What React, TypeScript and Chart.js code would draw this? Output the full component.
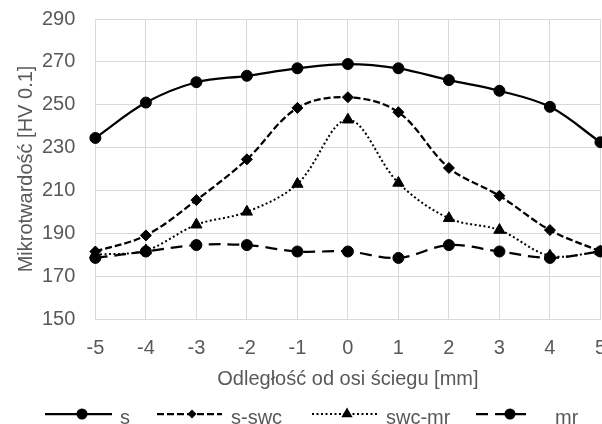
import React, { useEffect, useRef } from 'react';
import { Chart, registerables } from 'chart.js';

Chart.register(...registerables);

const categories = ['-5', '-4', '-3', '-2', '-1', '0', '1', '2', '3', '4', '5'];
const sValues = [234.5, 251, 260.5, 263.5, 267, 269, 267, 261.5, 256.5, 249, 232.5];
const sSwcValues = [181.5, 189, 205.5, 224.5, 248.5, 253.5, 246.5, 220.5, 207.5, 191.5, 181.5];
const swcMrValues = [180, 182, 194, 200, 213, 243, 213.5, 197, 191.5, 179.5, 181.5];
const mrValues = [178.5, 181.5, 184.5, 184.5, 181.5, 181.5, 178.5, 184.5, 181.5, 178.5, 181.5];
const seriesNames = ['s', 's-swc', 'swc-mr', 'mr'];
const yMin = 150;
const yMax = 290;
const yStep = 20;
const xTitle = 'Odległość od osi ściegu [mm]';
const yTitle = 'Mikrotwardość [HV 0.1]';

const FONT = "'Liberation Sans', Arial, sans-serif";
const TEXT = '#595959';
const GRID = '#d9d9d9';

const styles = [
  { dash: [] as number[], point: 'circle', radius: 5.5, width: 2.25 },
  { dash: [7, 3], point: 'rectRot', radius: 5.5, width: 2.25 },
  { dash: [2, 2.5], point: 'triangle', radius: 6.5, width: 2 },
  { dash: [12, 7], point: 'circle', radius: 5.5, width: 2.25 },
];

const legendItems = [
  { x0: 45, x1: 112, m: 82, t: 120 },
  { x0: 157, x1: 222, m: 192, t: 231 },
  { x0: 312, x1: 378, m: 347, t: 386 },
  { x0: 476, x1: 532, m: 510, t: 555 },
];

function drawMarker(ctx: CanvasRenderingContext2D, style: string, x: number, y: number, r: number) {
  ctx.beginPath();
  if (style === 'circle') {
    ctx.arc(x, y, r, 0, Math.PI * 2);
  } else if (style === 'rectRot') {
    ctx.moveTo(x - r, y);
    ctx.lineTo(x, y - r);
    ctx.lineTo(x + r, y);
    ctx.lineTo(x, y + r);
    ctx.closePath();
  } else {
    const a = -Math.PI / 2;
    for (let k = 0; k < 3; k++) {
      const ang = a + (k * 2 * Math.PI) / 3;
      const px = x + Math.cos(ang) * r;
      const py = y + Math.sin(ang) * r;
      if (k === 0) ctx.moveTo(px, py);
      else ctx.lineTo(px, py);
    }
    ctx.closePath();
  }
  ctx.fill();
}

const legendPlugin = {
  id: 'customLegend',
  afterDraw(chart: any) {
    const ctx = chart.ctx;
    const y = 414;
    ctx.save();
    legendItems.forEach((it, i) => {
      const st = styles[i];
      ctx.strokeStyle = '#000';
      ctx.lineWidth = st.width;
      ctx.setLineDash(st.dash);
      ctx.beginPath();
      ctx.moveTo(it.x0, y);
      ctx.lineTo(it.x1, y);
      ctx.stroke();
      ctx.setLineDash([]);
      ctx.fillStyle = '#000';
      const r = i === 1 ? 4.5 : st.radius;
      drawMarker(ctx, st.point, it.m, y, r);
      ctx.fillStyle = TEXT;
      ctx.font = `20px ${FONT}`;
      ctx.textBaseline = 'alphabetic';
      ctx.textAlign = 'left';
      ctx.fillText(seriesNames[i], it.t, 424);
    });
    ctx.restore();
  },
};

export default function App() {
  const ref = useRef<HTMLCanvasElement>(null);
  useEffect(() => {
    if (!ref.current) return;
    const allValues = [sValues, sSwcValues, swcMrValues, mrValues];
    const chart = new Chart(ref.current, {
      type: 'line',
      data: {
        labels: categories,
        datasets: allValues.map((vals, i) => ({
          label: seriesNames[i],
          data: vals,
          borderColor: '#000',
          backgroundColor: '#000',
          borderWidth: styles[i].width,
          borderDash: styles[i].dash,
          pointStyle: styles[i].point as any,
          pointRadius: styles[i].radius,
          pointBorderWidth: 1,
          pointBackgroundColor: '#000',
          pointBorderColor: '#000',
          tension: 0.35,
          fill: false,
          order: 4 - i,
        })),
      },
      options: {
        animation: false,
        responsive: false,
        maintainAspectRatio: false,
        layout: { padding: { left: 14, top: 19, right: 0, bottom: 33 } },
        plugins: {
          legend: { display: false },
          tooltip: { enabled: false },
        },
        scales: {
          x: {
            type: 'category',
            offset: false,
            grid: { color: GRID, lineWidth: 1, drawTicks: true, tickLength: 14, tickColor: 'rgba(0,0,0,0)' },
            border: { color: GRID },
            ticks: { color: TEXT, font: { family: FONT, size: 20 }, padding: 3, maxRotation: 0, autoSkip: false },
            title: { display: true, text: xTitle, color: TEXT, font: { family: FONT, size: 20 }, padding: { top: 4, bottom: 0 } },
          },
          y: {
            min: yMin,
            max: yMax,
            grid: { color: GRID, lineWidth: 1, drawTicks: true, tickLength: 17, tickColor: 'rgba(0,0,0,0)' },
            border: { display: false },
            ticks: { stepSize: yStep, color: TEXT, font: { family: FONT, size: 20 }, padding: 3 },
            title: { display: true, text: yTitle, color: TEXT, font: { family: FONT, size: 20 }, padding: { top: 0, bottom: 1 } },
          },
        },
      },
      plugins: [legendPlugin],
    });
    return () => chart.destroy();
  }, []);
  return (
    <div style={{ position: 'fixed', left: 0, top: 0, width: 602, height: 424, overflow: 'hidden', background: '#fff' }}>
      <canvas ref={ref} width={609} height={424} style={{ display: 'block' }} />
    </div>
  );
}
